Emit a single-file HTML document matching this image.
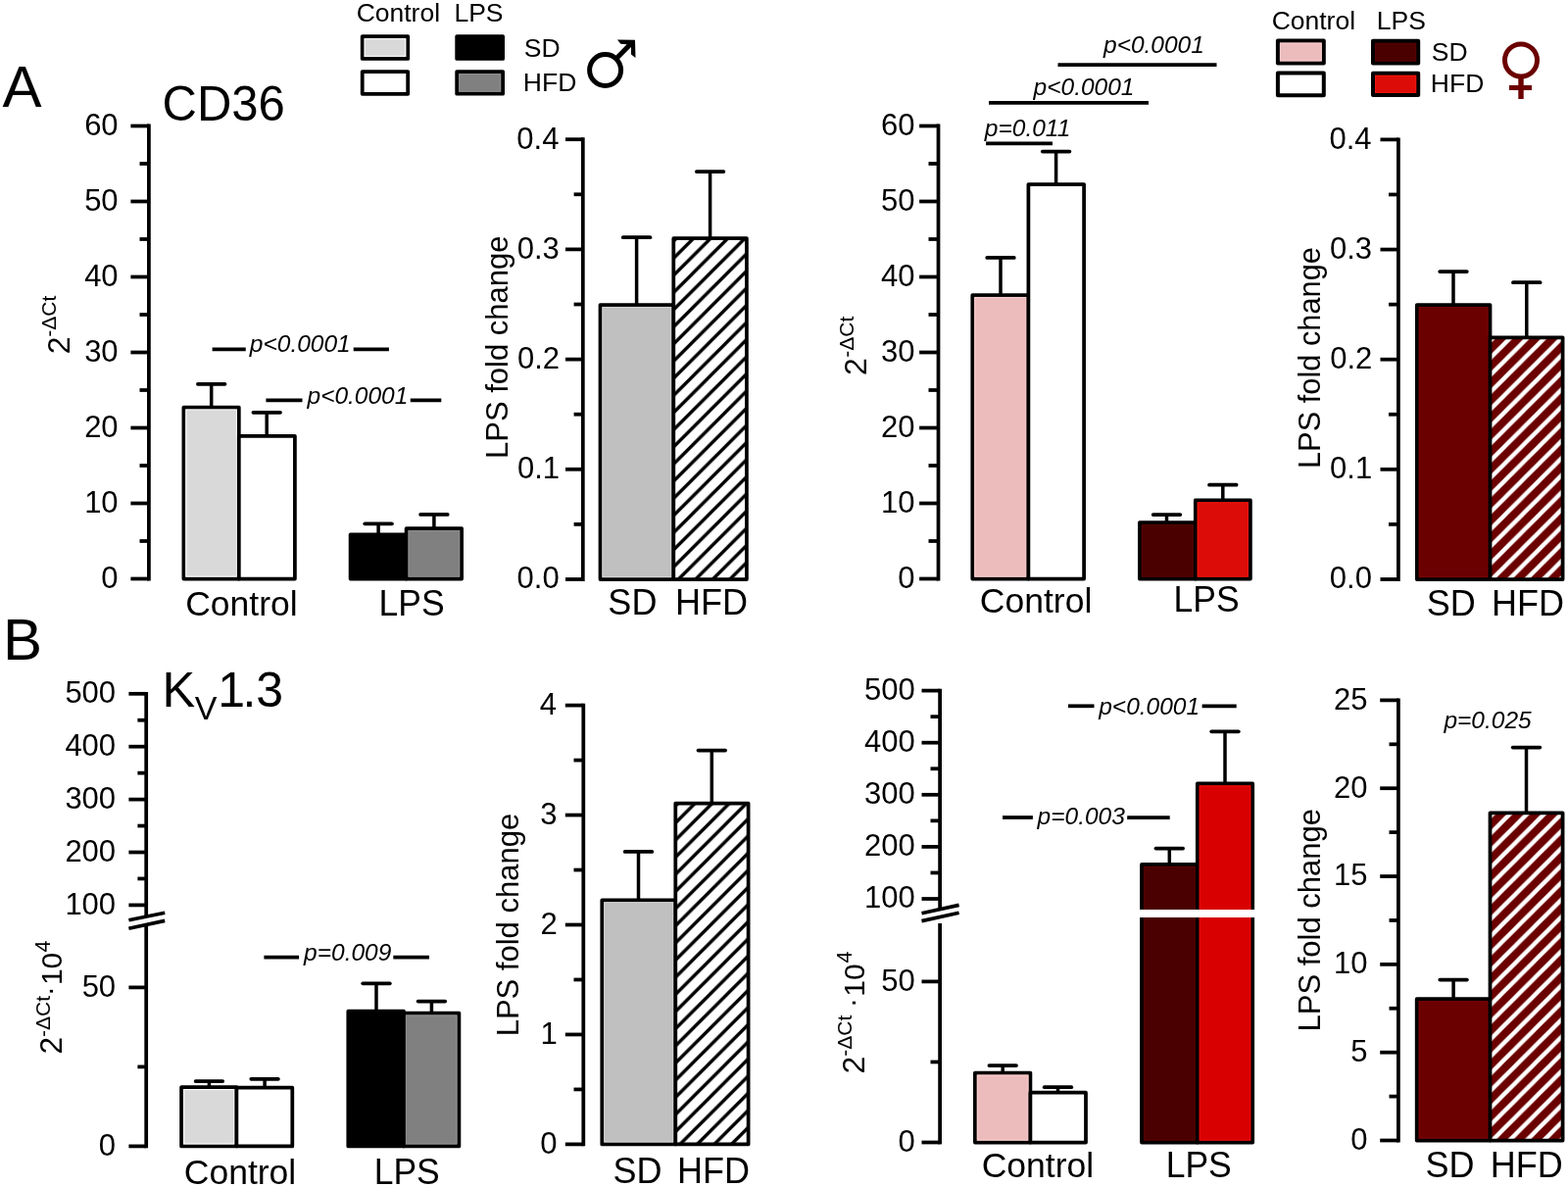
<!DOCTYPE html>
<html><head><meta charset="utf-8"><title>CD36 and Kv1.3</title>
<style>html,body{margin:0;padding:0;background:#fff;} svg{display:block;} text{font-family:'Liberation Sans', Arial, sans-serif;}</style>
</head><body>
<svg width="1600" height="1211" viewBox="0 0 1600 1211" font-family="'Liberation Sans', Arial, sans-serif">
<defs><pattern id="h2" patternUnits="userSpaceOnUse" x="5.8" y="0" width="17.5" height="17.5"><rect x="-1" y="-1" width="19.5" height="19.5" fill="#fff"/><path d="M-8.75,8.75 L8.75,-8.75 M0,17.5 L17.5,0 M8.75,26.25 L26.25,8.75" stroke="#000" stroke-width="3.4"/></pattern><pattern id="h4" patternUnits="userSpaceOnUse" x="13.4" y="0" width="17.5" height="17.5"><rect x="-1" y="-1" width="19.5" height="19.5" fill="#6b0000"/><path d="M-8.75,8.75 L8.75,-8.75 M0,17.5 L17.5,0 M8.75,26.25 L26.25,8.75" stroke="#fff" stroke-width="4.3"/></pattern><pattern id="h6" patternUnits="userSpaceOnUse" x="6.3" y="0" width="17.5" height="17.5"><rect x="-1" y="-1" width="19.5" height="19.5" fill="#fff"/><path d="M-8.75,8.75 L8.75,-8.75 M0,17.5 L17.5,0 M8.75,26.25 L26.25,8.75" stroke="#000" stroke-width="3.4"/></pattern><pattern id="h8" patternUnits="userSpaceOnUse" x="8.7" y="0" width="17.5" height="17.5"><rect x="-1" y="-1" width="19.5" height="19.5" fill="#6b0000"/><path d="M-8.75,8.75 L8.75,-8.75 M0,17.5 L17.5,0 M8.75,26.25 L26.25,8.75" stroke="#fff" stroke-width="4.3"/></pattern></defs>
<rect width="1600" height="1211" fill="#fff"/>
<text x="2.38" y="109.05" font-size="60" fill="#000">A</text>
<text transform="translate(165.56,123.30) scale(1,1.035)" font-size="49" fill="#000">CD36</text>
<line x1="151.90" y1="126.62" x2="151.90" y2="592.38" stroke="#000" stroke-width="3.75" stroke-linecap="butt"/>
<line x1="133.40" y1="590.50" x2="151.90" y2="590.50" stroke="#000" stroke-width="3.75" stroke-linecap="butt"/>
<line x1="133.40" y1="513.50" x2="151.90" y2="513.50" stroke="#000" stroke-width="3.75" stroke-linecap="butt"/>
<line x1="133.40" y1="436.50" x2="151.90" y2="436.50" stroke="#000" stroke-width="3.75" stroke-linecap="butt"/>
<line x1="133.40" y1="359.50" x2="151.90" y2="359.50" stroke="#000" stroke-width="3.75" stroke-linecap="butt"/>
<line x1="133.40" y1="282.50" x2="151.90" y2="282.50" stroke="#000" stroke-width="3.75" stroke-linecap="butt"/>
<line x1="133.40" y1="205.50" x2="151.90" y2="205.50" stroke="#000" stroke-width="3.75" stroke-linecap="butt"/>
<line x1="133.40" y1="128.50" x2="151.90" y2="128.50" stroke="#000" stroke-width="3.75" stroke-linecap="butt"/>
<line x1="142.50" y1="552.00" x2="151.90" y2="552.00" stroke="#000" stroke-width="3.75" stroke-linecap="butt"/>
<line x1="142.50" y1="475.00" x2="151.90" y2="475.00" stroke="#000" stroke-width="3.75" stroke-linecap="butt"/>
<line x1="142.50" y1="398.00" x2="151.90" y2="398.00" stroke="#000" stroke-width="3.75" stroke-linecap="butt"/>
<line x1="142.50" y1="321.00" x2="151.90" y2="321.00" stroke="#000" stroke-width="3.75" stroke-linecap="butt"/>
<line x1="142.50" y1="244.00" x2="151.90" y2="244.00" stroke="#000" stroke-width="3.75" stroke-linecap="butt"/>
<line x1="142.50" y1="167.00" x2="151.90" y2="167.00" stroke="#000" stroke-width="3.75" stroke-linecap="butt"/>
<text x="103.37" y="599.80" font-size="31" fill="#000">0</text>
<text x="86.13" y="522.80" font-size="31" fill="#000">10</text>
<text x="86.13" y="445.80" font-size="31" fill="#000">20</text>
<text x="86.13" y="368.80" font-size="31" fill="#000">30</text>
<text x="86.13" y="291.80" font-size="31" fill="#000">40</text>
<text x="86.13" y="214.80" font-size="31" fill="#000">50</text>
<text x="86.13" y="137.80" font-size="31" fill="#000">60</text>
<rect x="187.40" y="415.60" width="56.40" height="174.90" fill="#d9d9d9" stroke="#000" stroke-width="3.75" stroke-linejoin="round"/>
<rect x="189.88" y="418.08" width="51.45" height="169.95" fill="none" stroke="#f8f8f8" stroke-width="1.1"/>
<rect x="243.80" y="444.80" width="57.10" height="145.70" fill="#ffffff" stroke="#000" stroke-width="3.75" stroke-linejoin="round"/>
<rect x="357.60" y="545.30" width="57.00" height="45.20" fill="#000000" stroke="#000" stroke-width="3.75" stroke-linejoin="round"/>
<rect x="414.60" y="539.10" width="56.50" height="51.40" fill="#808080" stroke="#000" stroke-width="3.75" stroke-linejoin="round"/>
<rect x="417.08" y="541.58" width="51.55" height="46.45" fill="none" stroke="#8e8e8e" stroke-width="1.1"/>
<line x1="215.70" y1="415.60" x2="215.70" y2="391.80" stroke="#000" stroke-width="3.5" stroke-linecap="butt"/>
<line x1="201.90" y1="391.80" x2="229.50" y2="391.80" stroke="#000" stroke-width="3.75" stroke-linecap="round"/>
<line x1="272.20" y1="444.80" x2="272.20" y2="420.80" stroke="#000" stroke-width="3.5" stroke-linecap="butt"/>
<line x1="258.40" y1="420.80" x2="286.00" y2="420.80" stroke="#000" stroke-width="3.75" stroke-linecap="round"/>
<line x1="386.10" y1="545.30" x2="386.10" y2="534.30" stroke="#000" stroke-width="3.5" stroke-linecap="butt"/>
<line x1="372.30" y1="534.30" x2="399.90" y2="534.30" stroke="#000" stroke-width="3.75" stroke-linecap="round"/>
<line x1="442.90" y1="539.10" x2="442.90" y2="524.90" stroke="#000" stroke-width="3.5" stroke-linecap="butt"/>
<line x1="429.10" y1="524.90" x2="456.70" y2="524.90" stroke="#000" stroke-width="3.75" stroke-linecap="round"/>
<line x1="216.60" y1="356.25" x2="250.75" y2="356.25" stroke="#000" stroke-width="3.75" stroke-linecap="butt"/>
<line x1="360.70" y1="356.25" x2="396.90" y2="356.25" stroke="#000" stroke-width="3.75" stroke-linecap="butt"/>
<text x="254.86" y="359.40" font-size="24.5" font-style="italic" fill="#000">p&lt;0.0001</text>
<line x1="271.40" y1="408.40" x2="308.50" y2="408.40" stroke="#000" stroke-width="3.75" stroke-linecap="butt"/>
<line x1="418.75" y1="408.40" x2="450.30" y2="408.40" stroke="#000" stroke-width="3.75" stroke-linecap="butt"/>
<text x="313.51" y="412.25" font-size="24.5" font-style="italic" fill="#000">p&lt;0.0001</text>
<text x="189.20" y="628.10" font-size="35.5" fill="#000">Control</text>
<text transform="translate(386.59,628.10) scale(1,1.03)" font-size="35.5" fill="#000">LPS</text>
<text transform="rotate(-90)"><tspan x="-361.31" y="70.70" font-size="32">2</tspan><tspan x="-343.73" y="57.30" font-size="21">-ΔCt</tspan></text>
<text x="363.65" y="22.00" font-size="26.5" fill="#000">Control</text>
<text x="463.43" y="22.00" font-size="26.5" fill="#000">LPS</text>
<rect x="369.70" y="37.10" width="46.50" height="22.80" fill="#d9d9d9" stroke="#000" stroke-width="3.8" stroke-linejoin="round"/>
<rect x="372.20" y="39.60" width="41.50" height="17.80" fill="none" stroke="#f8f8f8" stroke-width="1.1"/>
<rect x="369.70" y="73.10" width="46.50" height="22.70" fill="#ffffff" stroke="#000" stroke-width="3.8" stroke-linejoin="round"/>
<rect x="466.20" y="37.10" width="46.90" height="22.80" fill="#000000" stroke="#000" stroke-width="3.8" stroke-linejoin="round"/>
<rect x="466.20" y="73.10" width="46.90" height="22.60" fill="#808080" stroke="#000" stroke-width="3.8" stroke-linejoin="round"/>
<rect x="468.70" y="75.60" width="41.90" height="17.60" fill="none" stroke="#8e8e8e" stroke-width="1.1"/>
<text x="534.80" y="57.60" font-size="26.5" fill="#000">SD</text>
<text x="533.83" y="93.00" font-size="26.5" fill="#000">HFD</text>
<circle cx="617.6" cy="71.5" r="16" fill="none" stroke="#000" stroke-width="5"/>
<polygon points="626.6,58.4 639.7,45.3 633.4,44.7 629.9,40.6 648,40.8 648.5,59 644,55.4 644,48 630.4,61.8" fill="#000"/>
<line x1="594.80" y1="140.32" x2="594.80" y2="592.88" stroke="#000" stroke-width="3.75" stroke-linecap="butt"/>
<line x1="577.00" y1="591.00" x2="594.80" y2="591.00" stroke="#000" stroke-width="3.75" stroke-linecap="butt"/>
<line x1="577.00" y1="478.80" x2="594.80" y2="478.80" stroke="#000" stroke-width="3.75" stroke-linecap="butt"/>
<line x1="577.00" y1="366.60" x2="594.80" y2="366.60" stroke="#000" stroke-width="3.75" stroke-linecap="butt"/>
<line x1="577.00" y1="254.40" x2="594.80" y2="254.40" stroke="#000" stroke-width="3.75" stroke-linecap="butt"/>
<line x1="577.00" y1="142.20" x2="594.80" y2="142.20" stroke="#000" stroke-width="3.75" stroke-linecap="butt"/>
<line x1="585.60" y1="534.90" x2="594.80" y2="534.90" stroke="#000" stroke-width="3.75" stroke-linecap="butt"/>
<line x1="585.60" y1="422.70" x2="594.80" y2="422.70" stroke="#000" stroke-width="3.75" stroke-linecap="butt"/>
<line x1="585.60" y1="310.50" x2="594.80" y2="310.50" stroke="#000" stroke-width="3.75" stroke-linecap="butt"/>
<line x1="585.60" y1="198.30" x2="594.80" y2="198.30" stroke="#000" stroke-width="3.75" stroke-linecap="butt"/>
<text x="527.62" y="600.30" font-size="31" fill="#000">0.0</text>
<text x="527.92" y="488.10" font-size="31" fill="#000">0.1</text>
<text x="527.96" y="375.90" font-size="31" fill="#000">0.2</text>
<text x="527.77" y="263.70" font-size="31" fill="#000">0.3</text>
<text x="527.31" y="151.50" font-size="31" fill="#000">0.4</text>
<rect x="612.50" y="311.00" width="74.80" height="280.00" fill="#c0c0c0" stroke="#000" stroke-width="3.75" stroke-linejoin="round"/>
<rect x="614.98" y="313.48" width="69.85" height="275.05" fill="none" stroke="#d2d2d2" stroke-width="1.1"/>
<rect x="687.30" y="243.20" width="74.60" height="347.80" fill="url(#h2)" stroke="#000" stroke-width="3.75" stroke-linejoin="round"/>
<line x1="649.60" y1="311.00" x2="649.60" y2="242.20" stroke="#000" stroke-width="3.5" stroke-linecap="butt"/>
<line x1="635.80" y1="242.20" x2="663.40" y2="242.20" stroke="#000" stroke-width="3.75" stroke-linecap="round"/>
<line x1="724.60" y1="243.20" x2="724.60" y2="175.00" stroke="#000" stroke-width="3.5" stroke-linecap="butt"/>
<line x1="710.80" y1="175.00" x2="738.40" y2="175.00" stroke="#000" stroke-width="3.75" stroke-linecap="round"/>
<text transform="translate(518.20,468.04) rotate(-90)" font-size="31">LPS fold change</text>
<text transform="translate(620.37,626.50) scale(1,1.02)" font-size="36" fill="#000">SD</text>
<text transform="translate(689.05,626.50) scale(1,1.02)" font-size="36" fill="#000">HFD</text>
<line x1="957.50" y1="126.62" x2="957.50" y2="592.38" stroke="#000" stroke-width="3.75" stroke-linecap="butt"/>
<line x1="938.10" y1="590.50" x2="957.50" y2="590.50" stroke="#000" stroke-width="3.75" stroke-linecap="butt"/>
<line x1="938.10" y1="513.50" x2="957.50" y2="513.50" stroke="#000" stroke-width="3.75" stroke-linecap="butt"/>
<line x1="938.10" y1="436.50" x2="957.50" y2="436.50" stroke="#000" stroke-width="3.75" stroke-linecap="butt"/>
<line x1="938.10" y1="359.50" x2="957.50" y2="359.50" stroke="#000" stroke-width="3.75" stroke-linecap="butt"/>
<line x1="938.10" y1="282.50" x2="957.50" y2="282.50" stroke="#000" stroke-width="3.75" stroke-linecap="butt"/>
<line x1="938.10" y1="205.50" x2="957.50" y2="205.50" stroke="#000" stroke-width="3.75" stroke-linecap="butt"/>
<line x1="938.10" y1="128.50" x2="957.50" y2="128.50" stroke="#000" stroke-width="3.75" stroke-linecap="butt"/>
<line x1="947.50" y1="552.00" x2="957.50" y2="552.00" stroke="#000" stroke-width="3.75" stroke-linecap="butt"/>
<line x1="947.50" y1="475.00" x2="957.50" y2="475.00" stroke="#000" stroke-width="3.75" stroke-linecap="butt"/>
<line x1="947.50" y1="398.00" x2="957.50" y2="398.00" stroke="#000" stroke-width="3.75" stroke-linecap="butt"/>
<line x1="947.50" y1="321.00" x2="957.50" y2="321.00" stroke="#000" stroke-width="3.75" stroke-linecap="butt"/>
<line x1="947.50" y1="244.00" x2="957.50" y2="244.00" stroke="#000" stroke-width="3.75" stroke-linecap="butt"/>
<line x1="947.50" y1="167.00" x2="957.50" y2="167.00" stroke="#000" stroke-width="3.75" stroke-linecap="butt"/>
<text x="916.27" y="599.80" font-size="31" fill="#000">0</text>
<text x="899.03" y="522.80" font-size="31" fill="#000">10</text>
<text x="899.03" y="445.80" font-size="31" fill="#000">20</text>
<text x="899.03" y="368.80" font-size="31" fill="#000">30</text>
<text x="899.03" y="291.80" font-size="31" fill="#000">40</text>
<text x="899.03" y="214.80" font-size="31" fill="#000">50</text>
<text x="899.03" y="137.80" font-size="31" fill="#000">60</text>
<rect x="992.30" y="301.00" width="57.10" height="289.50" fill="#ecbbbb" stroke="#000" stroke-width="3.75" stroke-linejoin="round"/>
<rect x="994.77" y="303.48" width="52.15" height="284.55" fill="none" stroke="#f8cccc" stroke-width="1.1"/>
<rect x="1049.40" y="188.00" width="56.70" height="402.50" fill="#ffffff" stroke="#000" stroke-width="3.75" stroke-linejoin="round"/>
<rect x="1162.90" y="533.10" width="56.90" height="57.40" fill="#4b0000" stroke="#000" stroke-width="3.75" stroke-linejoin="round"/>
<rect x="1165.38" y="535.58" width="51.95" height="52.45" fill="none" stroke="#560303" stroke-width="1.1"/>
<rect x="1219.80" y="510.40" width="56.10" height="80.10" fill="#dc0c08" stroke="#000" stroke-width="3.75" stroke-linejoin="round"/>
<rect x="1222.27" y="512.88" width="51.15" height="75.15" fill="none" stroke="#ec1610" stroke-width="1.1"/>
<line x1="1021.00" y1="301.00" x2="1021.00" y2="262.90" stroke="#000" stroke-width="3.5" stroke-linecap="butt"/>
<line x1="1007.20" y1="262.90" x2="1034.80" y2="262.90" stroke="#000" stroke-width="3.75" stroke-linecap="round"/>
<line x1="1077.60" y1="188.00" x2="1077.60" y2="154.60" stroke="#000" stroke-width="3.5" stroke-linecap="butt"/>
<line x1="1063.80" y1="154.60" x2="1091.40" y2="154.60" stroke="#000" stroke-width="3.75" stroke-linecap="round"/>
<line x1="1190.50" y1="533.10" x2="1190.50" y2="525.00" stroke="#000" stroke-width="3.5" stroke-linecap="butt"/>
<line x1="1176.70" y1="525.00" x2="1204.30" y2="525.00" stroke="#000" stroke-width="3.75" stroke-linecap="round"/>
<line x1="1247.80" y1="510.40" x2="1247.80" y2="494.70" stroke="#000" stroke-width="3.5" stroke-linecap="butt"/>
<line x1="1234.00" y1="494.70" x2="1261.60" y2="494.70" stroke="#000" stroke-width="3.75" stroke-linecap="round"/>
<line x1="1006.10" y1="146.30" x2="1074.00" y2="146.30" stroke="#000" stroke-width="3.75" stroke-linecap="butt"/>
<text x="1004.86" y="138.90" font-size="24.5" font-style="italic" fill="#000">p=0.011</text>
<line x1="1009.00" y1="104.80" x2="1172.00" y2="104.80" stroke="#000" stroke-width="3.75" stroke-linecap="butt"/>
<text x="1054.61" y="97.10" font-size="24.5" font-style="italic" fill="#000">p&lt;0.0001</text>
<line x1="1079.50" y1="66.10" x2="1241.50" y2="66.10" stroke="#000" stroke-width="3.75" stroke-linecap="butt"/>
<text x="1126.01" y="53.50" font-size="24.5" font-style="italic" fill="#000">p&lt;0.0001</text>
<text x="999.85" y="624.70" font-size="35.5" fill="#000">Control</text>
<text transform="translate(1197.59,624.40) scale(1,1.03)" font-size="35.5" fill="#000">LPS</text>
<text transform="rotate(-90)"><tspan x="-382.91" y="884.30" font-size="32">2</tspan><tspan x="-364.73" y="870.90" font-size="21">-ΔCt</tspan></text>
<text x="1297.65" y="30.00" font-size="26.5" fill="#000">Control</text>
<text x="1404.83" y="30.00" font-size="26.5" fill="#000">LPS</text>
<rect x="1303.90" y="41.60" width="46.90" height="22.90" fill="#ecbbbb" stroke="#000" stroke-width="4.0" stroke-linejoin="round"/>
<rect x="1306.50" y="44.20" width="41.70" height="17.70" fill="none" stroke="#f8cccc" stroke-width="1.1"/>
<rect x="1303.90" y="74.60" width="46.90" height="22.60" fill="#ffffff" stroke="#000" stroke-width="4.0" stroke-linejoin="round"/>
<rect x="1401.00" y="41.80" width="46.20" height="22.80" fill="#4b0000" stroke="#000" stroke-width="4.0" stroke-linejoin="round"/>
<rect x="1403.60" y="44.40" width="41.00" height="17.60" fill="none" stroke="#560303" stroke-width="1.1"/>
<rect x="1401.00" y="74.70" width="46.20" height="22.20" fill="#dc0c08" stroke="#000" stroke-width="4.0" stroke-linejoin="round"/>
<rect x="1403.60" y="77.30" width="41.00" height="17.00" fill="none" stroke="#ec1610" stroke-width="1.1"/>
<text x="1460.80" y="61.60" font-size="26.5" fill="#000">SD</text>
<text x="1459.83" y="94.00" font-size="26.5" fill="#000">HFD</text>
<circle cx="1552" cy="61.5" r="16.5" fill="none" stroke="#6b0000" stroke-width="5"/>
<line x1="1552.00" y1="79.00" x2="1552.00" y2="101.00" stroke="#6b0000" stroke-width="5.4" stroke-linecap="butt"/>
<line x1="1540.00" y1="89.50" x2="1563.00" y2="89.50" stroke="#6b0000" stroke-width="5" stroke-linecap="butt"/>
<line x1="1426.90" y1="140.52" x2="1426.90" y2="592.88" stroke="#000" stroke-width="3.75" stroke-linecap="butt"/>
<line x1="1408.50" y1="591.00" x2="1426.90" y2="591.00" stroke="#000" stroke-width="3.75" stroke-linecap="butt"/>
<line x1="1408.50" y1="478.85" x2="1426.90" y2="478.85" stroke="#000" stroke-width="3.75" stroke-linecap="butt"/>
<line x1="1408.50" y1="366.70" x2="1426.90" y2="366.70" stroke="#000" stroke-width="3.75" stroke-linecap="butt"/>
<line x1="1408.50" y1="254.55" x2="1426.90" y2="254.55" stroke="#000" stroke-width="3.75" stroke-linecap="butt"/>
<line x1="1408.50" y1="142.40" x2="1426.90" y2="142.40" stroke="#000" stroke-width="3.75" stroke-linecap="butt"/>
<line x1="1417.00" y1="534.92" x2="1426.90" y2="534.92" stroke="#000" stroke-width="3.75" stroke-linecap="butt"/>
<line x1="1417.00" y1="422.77" x2="1426.90" y2="422.77" stroke="#000" stroke-width="3.75" stroke-linecap="butt"/>
<line x1="1417.00" y1="310.62" x2="1426.90" y2="310.62" stroke="#000" stroke-width="3.75" stroke-linecap="butt"/>
<line x1="1417.00" y1="198.48" x2="1426.90" y2="198.48" stroke="#000" stroke-width="3.75" stroke-linecap="butt"/>
<text x="1356.82" y="600.30" font-size="31" fill="#000">0.0</text>
<text x="1357.12" y="488.15" font-size="31" fill="#000">0.1</text>
<text x="1357.16" y="376.00" font-size="31" fill="#000">0.2</text>
<text x="1356.97" y="263.85" font-size="31" fill="#000">0.3</text>
<text x="1356.51" y="151.70" font-size="31" fill="#000">0.4</text>
<rect x="1445.85" y="311.10" width="74.65" height="279.90" fill="#6b0000" stroke="#000" stroke-width="3.75" stroke-linejoin="round"/>
<rect x="1448.32" y="313.58" width="69.70" height="274.95" fill="none" stroke="#760505" stroke-width="1.1"/>
<rect x="1520.50" y="344.30" width="74.10" height="246.70" fill="url(#h4)" stroke="#000" stroke-width="3.75" stroke-linejoin="round"/>
<line x1="1483.00" y1="311.10" x2="1483.00" y2="277.00" stroke="#000" stroke-width="3.5" stroke-linecap="butt"/>
<line x1="1469.20" y1="277.00" x2="1496.80" y2="277.00" stroke="#000" stroke-width="3.75" stroke-linecap="round"/>
<line x1="1557.80" y1="344.30" x2="1557.80" y2="288.20" stroke="#000" stroke-width="3.5" stroke-linecap="butt"/>
<line x1="1544.00" y1="288.20" x2="1571.60" y2="288.20" stroke="#000" stroke-width="3.75" stroke-linecap="round"/>
<text transform="translate(1347.40,478.03) rotate(-90)" font-size="30.8">LPS fold change</text>
<text transform="translate(1455.77,627.90) scale(1,1.02)" font-size="36" fill="#000">SD</text>
<text transform="translate(1522.05,627.90) scale(1,1.02)" font-size="36" fill="#000">HFD</text>
<text x="3.03" y="672.90" font-size="60" fill="#000">B</text>
<text x="165.46" y="720.70" font-size="50.5" fill="#000">K</text>
<text x="198.75" y="733.80" font-size="34" fill="#000">V</text>
<text x="222.24" y="720.90" font-size="50" fill="#000">1</text>
<text x="247.43" y="720.90" font-size="50" fill="#000">.</text>
<text x="261.29" y="720.90" font-size="50" fill="#000">3</text>
<line x1="149.20" y1="705.92" x2="149.20" y2="935.00" stroke="#000" stroke-width="3.75" stroke-linecap="butt"/>
<line x1="149.20" y1="944.00" x2="149.20" y2="1171.28" stroke="#000" stroke-width="3.75" stroke-linecap="butt"/>
<line x1="131.40" y1="923.40" x2="149.20" y2="923.40" stroke="#000" stroke-width="3.75" stroke-linecap="butt"/>
<line x1="131.40" y1="869.50" x2="149.20" y2="869.50" stroke="#000" stroke-width="3.75" stroke-linecap="butt"/>
<line x1="131.40" y1="815.60" x2="149.20" y2="815.60" stroke="#000" stroke-width="3.75" stroke-linecap="butt"/>
<line x1="131.40" y1="761.70" x2="149.20" y2="761.70" stroke="#000" stroke-width="3.75" stroke-linecap="butt"/>
<line x1="131.40" y1="707.80" x2="149.20" y2="707.80" stroke="#000" stroke-width="3.75" stroke-linecap="butt"/>
<line x1="140.40" y1="896.45" x2="149.20" y2="896.45" stroke="#000" stroke-width="3.75" stroke-linecap="butt"/>
<line x1="140.40" y1="842.55" x2="149.20" y2="842.55" stroke="#000" stroke-width="3.75" stroke-linecap="butt"/>
<line x1="140.40" y1="788.65" x2="149.20" y2="788.65" stroke="#000" stroke-width="3.75" stroke-linecap="butt"/>
<line x1="140.40" y1="734.75" x2="149.20" y2="734.75" stroke="#000" stroke-width="3.75" stroke-linecap="butt"/>
<line x1="131.40" y1="1007.40" x2="149.20" y2="1007.40" stroke="#000" stroke-width="3.75" stroke-linecap="butt"/>
<line x1="131.40" y1="1169.40" x2="149.20" y2="1169.40" stroke="#000" stroke-width="3.75" stroke-linecap="butt"/>
<line x1="140.40" y1="1088.40" x2="149.20" y2="1088.40" stroke="#000" stroke-width="3.75" stroke-linecap="butt"/>
<line x1="131.40" y1="938.80" x2="168.20" y2="931.20" stroke="#000" stroke-width="3.7" stroke-linecap="butt"/>
<line x1="131.40" y1="947.20" x2="168.20" y2="939.40" stroke="#000" stroke-width="3.7" stroke-linecap="butt"/>
<text x="66.39" y="932.70" font-size="31" fill="#000">100</text>
<text x="66.39" y="878.80" font-size="31" fill="#000">200</text>
<text x="66.39" y="824.90" font-size="31" fill="#000">300</text>
<text x="66.39" y="771.00" font-size="31" fill="#000">400</text>
<text x="66.39" y="717.10" font-size="31" fill="#000">500</text>
<text x="83.63" y="1016.70" font-size="31" fill="#000">50</text>
<text x="100.87" y="1178.70" font-size="31" fill="#000">0</text>
<rect x="185.10" y="1109.10" width="56.30" height="60.30" fill="#d9d9d9" stroke="#000" stroke-width="3.75" stroke-linejoin="round"/>
<rect x="187.57" y="1111.57" width="51.35" height="55.35" fill="none" stroke="#f8f8f8" stroke-width="1.1"/>
<rect x="241.40" y="1109.60" width="56.90" height="59.80" fill="#ffffff" stroke="#000" stroke-width="3.75" stroke-linejoin="round"/>
<rect x="355.30" y="1031.70" width="56.70" height="137.70" fill="#000000" stroke="#000" stroke-width="3.75" stroke-linejoin="round"/>
<rect x="412.00" y="1033.50" width="56.40" height="135.90" fill="#808080" stroke="#000" stroke-width="3.75" stroke-linejoin="round"/>
<rect x="414.48" y="1035.97" width="51.45" height="130.95" fill="none" stroke="#8e8e8e" stroke-width="1.1"/>
<line x1="213.40" y1="1109.10" x2="213.40" y2="1103.10" stroke="#000" stroke-width="3.5" stroke-linecap="butt"/>
<line x1="199.60" y1="1103.10" x2="227.20" y2="1103.10" stroke="#000" stroke-width="3.75" stroke-linecap="round"/>
<line x1="270.10" y1="1109.60" x2="270.10" y2="1100.80" stroke="#000" stroke-width="3.5" stroke-linecap="butt"/>
<line x1="256.30" y1="1100.80" x2="283.90" y2="1100.80" stroke="#000" stroke-width="3.75" stroke-linecap="round"/>
<line x1="384.00" y1="1031.70" x2="384.00" y2="1003.30" stroke="#000" stroke-width="3.5" stroke-linecap="butt"/>
<line x1="370.20" y1="1003.30" x2="397.80" y2="1003.30" stroke="#000" stroke-width="3.75" stroke-linecap="round"/>
<line x1="440.40" y1="1033.50" x2="440.40" y2="1021.60" stroke="#000" stroke-width="3.5" stroke-linecap="butt"/>
<line x1="426.60" y1="1021.60" x2="454.20" y2="1021.60" stroke="#000" stroke-width="3.75" stroke-linecap="round"/>
<line x1="269.40" y1="976.50" x2="305.10" y2="976.50" stroke="#000" stroke-width="3.75" stroke-linecap="butt"/>
<line x1="401.30" y1="976.50" x2="438.00" y2="976.50" stroke="#000" stroke-width="3.75" stroke-linecap="butt"/>
<text x="310.11" y="980.30" font-size="24.5" font-style="italic" fill="#000">p=0.009</text>
<text x="187.80" y="1207.50" font-size="35.5" fill="#000">Control</text>
<text transform="translate(381.69,1207.50) scale(1,1.03)" font-size="35.5" fill="#000">LPS</text>
<text transform="rotate(-90)"><tspan x="-1075.49" y="63.30" font-size="31.7">2</tspan><tspan x="-1057.93" y="50.60" font-size="21">-ΔCt</tspan><tspan x="-1015.35" y="53.80" font-size="29">.</tspan><tspan x="-1005.09" y="63.00" font-size="30">10</tspan><tspan x="-971.59" y="50.50" font-size="21.5">4</tspan></text>
<line x1="595.30" y1="717.73" x2="595.30" y2="1169.28" stroke="#000" stroke-width="3.75" stroke-linecap="butt"/>
<line x1="576.80" y1="1167.40" x2="595.30" y2="1167.40" stroke="#000" stroke-width="3.75" stroke-linecap="butt"/>
<line x1="576.80" y1="1055.45" x2="595.30" y2="1055.45" stroke="#000" stroke-width="3.75" stroke-linecap="butt"/>
<line x1="576.80" y1="943.50" x2="595.30" y2="943.50" stroke="#000" stroke-width="3.75" stroke-linecap="butt"/>
<line x1="576.80" y1="831.55" x2="595.30" y2="831.55" stroke="#000" stroke-width="3.75" stroke-linecap="butt"/>
<line x1="576.80" y1="719.60" x2="595.30" y2="719.60" stroke="#000" stroke-width="3.75" stroke-linecap="butt"/>
<line x1="585.50" y1="1111.43" x2="595.30" y2="1111.43" stroke="#000" stroke-width="3.75" stroke-linecap="butt"/>
<line x1="585.50" y1="999.48" x2="595.30" y2="999.48" stroke="#000" stroke-width="3.75" stroke-linecap="butt"/>
<line x1="585.50" y1="887.53" x2="595.30" y2="887.53" stroke="#000" stroke-width="3.75" stroke-linecap="butt"/>
<line x1="585.50" y1="775.58" x2="595.30" y2="775.58" stroke="#000" stroke-width="3.75" stroke-linecap="butt"/>
<text x="551.17" y="1176.70" font-size="31" fill="#000">0</text>
<text x="551.47" y="1064.75" font-size="31" fill="#000">1</text>
<text x="551.52" y="952.80" font-size="31" fill="#000">2</text>
<text x="551.32" y="840.85" font-size="31" fill="#000">3</text>
<text x="550.87" y="728.90" font-size="31" fill="#000">4</text>
<rect x="614.30" y="918.30" width="75.00" height="249.10" fill="#c0c0c0" stroke="#000" stroke-width="3.75" stroke-linejoin="round"/>
<rect x="616.77" y="920.77" width="70.05" height="244.15" fill="none" stroke="#d2d2d2" stroke-width="1.1"/>
<rect x="689.30" y="819.50" width="74.30" height="347.90" fill="url(#h6)" stroke="#000" stroke-width="3.75" stroke-linejoin="round"/>
<line x1="651.50" y1="918.30" x2="651.50" y2="868.90" stroke="#000" stroke-width="3.5" stroke-linecap="butt"/>
<line x1="637.70" y1="868.90" x2="665.30" y2="868.90" stroke="#000" stroke-width="3.75" stroke-linecap="round"/>
<line x1="726.30" y1="819.50" x2="726.30" y2="765.60" stroke="#000" stroke-width="3.5" stroke-linecap="butt"/>
<line x1="712.50" y1="765.60" x2="740.10" y2="765.60" stroke="#000" stroke-width="3.75" stroke-linecap="round"/>
<text transform="translate(529.00,1057.34) rotate(-90)" font-size="31">LPS fold change</text>
<text transform="translate(625.47,1206.60) scale(1,1.02)" font-size="36" fill="#000">SD</text>
<text transform="translate(691.05,1206.60) scale(1,1.02)" font-size="36" fill="#000">HFD</text>
<line x1="959.10" y1="702.73" x2="959.10" y2="929.00" stroke="#000" stroke-width="3.75" stroke-linecap="butt"/>
<line x1="959.10" y1="942.00" x2="959.10" y2="1167.38" stroke="#000" stroke-width="3.75" stroke-linecap="butt"/>
<line x1="940.50" y1="917.00" x2="959.10" y2="917.00" stroke="#000" stroke-width="3.75" stroke-linecap="butt"/>
<line x1="940.50" y1="863.90" x2="959.10" y2="863.90" stroke="#000" stroke-width="3.75" stroke-linecap="butt"/>
<line x1="940.50" y1="810.80" x2="959.10" y2="810.80" stroke="#000" stroke-width="3.75" stroke-linecap="butt"/>
<line x1="940.50" y1="757.70" x2="959.10" y2="757.70" stroke="#000" stroke-width="3.75" stroke-linecap="butt"/>
<line x1="940.50" y1="704.60" x2="959.10" y2="704.60" stroke="#000" stroke-width="3.75" stroke-linecap="butt"/>
<line x1="949.50" y1="890.45" x2="959.10" y2="890.45" stroke="#000" stroke-width="3.75" stroke-linecap="butt"/>
<line x1="949.50" y1="837.35" x2="959.10" y2="837.35" stroke="#000" stroke-width="3.75" stroke-linecap="butt"/>
<line x1="949.50" y1="784.25" x2="959.10" y2="784.25" stroke="#000" stroke-width="3.75" stroke-linecap="butt"/>
<line x1="949.50" y1="731.15" x2="959.10" y2="731.15" stroke="#000" stroke-width="3.75" stroke-linecap="butt"/>
<line x1="940.50" y1="1001.40" x2="959.10" y2="1001.40" stroke="#000" stroke-width="3.75" stroke-linecap="butt"/>
<line x1="940.50" y1="1165.50" x2="959.10" y2="1165.50" stroke="#000" stroke-width="3.75" stroke-linecap="butt"/>
<line x1="949.50" y1="1083.45" x2="959.10" y2="1083.45" stroke="#000" stroke-width="3.75" stroke-linecap="butt"/>
<line x1="940.50" y1="931.80" x2="978.60" y2="923.40" stroke="#000" stroke-width="3.7" stroke-linecap="butt"/>
<line x1="940.50" y1="939.60" x2="978.60" y2="931.20" stroke="#000" stroke-width="3.7" stroke-linecap="butt"/>
<text x="882.09" y="926.30" font-size="31" fill="#000">100</text>
<text x="882.09" y="873.20" font-size="31" fill="#000">200</text>
<text x="882.09" y="820.10" font-size="31" fill="#000">300</text>
<text x="882.09" y="767.00" font-size="31" fill="#000">400</text>
<text x="882.09" y="713.90" font-size="31" fill="#000">500</text>
<text x="899.33" y="1010.70" font-size="31" fill="#000">50</text>
<text x="916.57" y="1174.80" font-size="31" fill="#000">0</text>
<rect x="994.90" y="1094.60" width="56.50" height="70.90" fill="#ecbbbb" stroke="#000" stroke-width="3.75" stroke-linejoin="round"/>
<rect x="997.38" y="1097.07" width="51.55" height="65.95" fill="none" stroke="#f8cccc" stroke-width="1.1"/>
<rect x="1051.40" y="1114.70" width="56.60" height="50.80" fill="#ffffff" stroke="#000" stroke-width="3.75" stroke-linejoin="round"/>
<rect x="1165.00" y="881.90" width="56.80" height="283.60" fill="#4a0000" stroke="#000" stroke-width="3.75" stroke-linejoin="round"/>
<rect x="1167.47" y="884.38" width="51.85" height="278.65" fill="none" stroke="#550303" stroke-width="1.1"/>
<rect x="1221.80" y="799.40" width="56.40" height="366.10" fill="#d80000" stroke="#000" stroke-width="3.75" stroke-linejoin="round"/>
<rect x="1224.27" y="801.88" width="51.45" height="361.15" fill="none" stroke="#e80c0c" stroke-width="1.1"/>
<rect x="1160" y="928.0" width="125" height="8.0" fill="#fff"/>
<line x1="1023.20" y1="1094.60" x2="1023.20" y2="1087.00" stroke="#000" stroke-width="3.5" stroke-linecap="butt"/>
<line x1="1009.40" y1="1087.00" x2="1037.00" y2="1087.00" stroke="#000" stroke-width="3.75" stroke-linecap="round"/>
<line x1="1079.50" y1="1114.70" x2="1079.50" y2="1109.20" stroke="#000" stroke-width="3.5" stroke-linecap="butt"/>
<line x1="1065.70" y1="1109.20" x2="1093.30" y2="1109.20" stroke="#000" stroke-width="3.75" stroke-linecap="round"/>
<line x1="1193.30" y1="881.90" x2="1193.30" y2="865.50" stroke="#000" stroke-width="3.5" stroke-linecap="butt"/>
<line x1="1179.50" y1="865.50" x2="1207.10" y2="865.50" stroke="#000" stroke-width="3.75" stroke-linecap="round"/>
<line x1="1250.00" y1="799.40" x2="1250.00" y2="746.30" stroke="#000" stroke-width="3.5" stroke-linecap="butt"/>
<line x1="1236.20" y1="746.30" x2="1263.80" y2="746.30" stroke="#000" stroke-width="3.75" stroke-linecap="round"/>
<line x1="1090.00" y1="720.30" x2="1116.50" y2="720.30" stroke="#000" stroke-width="3.75" stroke-linecap="butt"/>
<line x1="1226.60" y1="720.30" x2="1261.70" y2="720.30" stroke="#000" stroke-width="3.75" stroke-linecap="butt"/>
<text x="1121.21" y="728.60" font-size="24.5" font-style="italic" fill="#000">p&lt;0.0001</text>
<line x1="1023.00" y1="834.00" x2="1053.90" y2="834.00" stroke="#000" stroke-width="3.75" stroke-linecap="butt"/>
<line x1="1150.20" y1="834.00" x2="1193.70" y2="834.00" stroke="#000" stroke-width="3.75" stroke-linecap="butt"/>
<text x="1058.61" y="841.30" font-size="24.5" font-style="italic" fill="#000">p=0.003</text>
<text x="1001.70" y="1200.90" font-size="35.5" fill="#000">Control</text>
<text transform="translate(1189.69,1200.90) scale(1,1.03)" font-size="35.5" fill="#000">LPS</text>
<text transform="rotate(-90)"><tspan x="-1095.51" y="882.30" font-size="32">2</tspan><tspan x="-1077.73" y="868.90" font-size="21">-ΔCt</tspan><tspan x="-1027.14" y="872.80" font-size="30">.</tspan><tspan x="-1016.79" y="882.00" font-size="30">10</tspan><tspan x="-982.59" y="869.10" font-size="21.5">4</tspan></text>
<line x1="1426.90" y1="712.52" x2="1426.90" y2="1165.38" stroke="#000" stroke-width="3.75" stroke-linecap="butt"/>
<line x1="1408.20" y1="1163.50" x2="1426.90" y2="1163.50" stroke="#000" stroke-width="3.75" stroke-linecap="butt"/>
<line x1="1408.20" y1="1073.68" x2="1426.90" y2="1073.68" stroke="#000" stroke-width="3.75" stroke-linecap="butt"/>
<line x1="1408.20" y1="983.86" x2="1426.90" y2="983.86" stroke="#000" stroke-width="3.75" stroke-linecap="butt"/>
<line x1="1408.20" y1="894.04" x2="1426.90" y2="894.04" stroke="#000" stroke-width="3.75" stroke-linecap="butt"/>
<line x1="1408.20" y1="804.22" x2="1426.90" y2="804.22" stroke="#000" stroke-width="3.75" stroke-linecap="butt"/>
<line x1="1408.20" y1="714.40" x2="1426.90" y2="714.40" stroke="#000" stroke-width="3.75" stroke-linecap="butt"/>
<line x1="1417.50" y1="1118.59" x2="1426.90" y2="1118.59" stroke="#000" stroke-width="3.75" stroke-linecap="butt"/>
<line x1="1417.50" y1="1028.77" x2="1426.90" y2="1028.77" stroke="#000" stroke-width="3.75" stroke-linecap="butt"/>
<line x1="1417.50" y1="938.95" x2="1426.90" y2="938.95" stroke="#000" stroke-width="3.75" stroke-linecap="butt"/>
<line x1="1417.50" y1="849.13" x2="1426.90" y2="849.13" stroke="#000" stroke-width="3.75" stroke-linecap="butt"/>
<line x1="1417.50" y1="759.31" x2="1426.90" y2="759.31" stroke="#000" stroke-width="3.75" stroke-linecap="butt"/>
<text x="1378.17" y="1172.80" font-size="31" fill="#000">0</text>
<text x="1378.26" y="1082.98" font-size="31" fill="#000">5</text>
<text x="1360.93" y="993.16" font-size="31" fill="#000">10</text>
<text x="1361.02" y="903.34" font-size="31" fill="#000">15</text>
<text x="1360.93" y="813.52" font-size="31" fill="#000">20</text>
<text x="1361.02" y="723.70" font-size="31" fill="#000">25</text>
<rect x="1445.70" y="1019.20" width="74.80" height="144.30" fill="#6b0000" stroke="#000" stroke-width="3.75" stroke-linejoin="round"/>
<rect x="1448.17" y="1021.68" width="69.85" height="139.35" fill="none" stroke="#760505" stroke-width="1.1"/>
<rect x="1520.50" y="829.30" width="74.10" height="334.20" fill="url(#h8)" stroke="#000" stroke-width="3.75" stroke-linejoin="round"/>
<line x1="1483.10" y1="1019.20" x2="1483.10" y2="999.50" stroke="#000" stroke-width="3.5" stroke-linecap="butt"/>
<line x1="1469.30" y1="999.50" x2="1496.90" y2="999.50" stroke="#000" stroke-width="3.75" stroke-linecap="round"/>
<line x1="1557.50" y1="829.30" x2="1557.50" y2="762.50" stroke="#000" stroke-width="3.5" stroke-linecap="butt"/>
<line x1="1543.70" y1="762.50" x2="1571.30" y2="762.50" stroke="#000" stroke-width="3.75" stroke-linecap="round"/>
<text x="1473.41" y="743.30" font-size="24.5" font-style="italic" fill="#000">p=0.025</text>
<text transform="translate(1347.40,1052.54) rotate(-90)" font-size="31">LPS fold change</text>
<text transform="translate(1454.47,1201.00) scale(1,1.02)" font-size="36" fill="#000">SD</text>
<text transform="translate(1520.75,1201.00) scale(1,1.02)" font-size="36" fill="#000">HFD</text>
</svg>
</body></html>
